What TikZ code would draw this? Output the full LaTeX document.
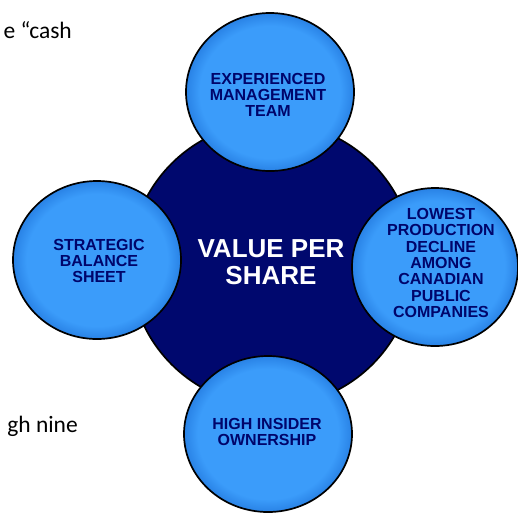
\documentclass[tikz,border=0pt]{standalone}
\usepackage{fontspec}
\setmainfont{Liberation Sans}
\newfontfamily\slidefont{Carlito}

\newlength{\du}
\setlength{\du}{1\unitlength}

\definecolor{bubbleblue}{rgb}{0.230000, 0.610000, 0.980000}
\definecolor{bubbleedge}{rgb}{0.160000, 0.510000, 0.900000}
\definecolor{hubnavy}{rgb}{0.000000, 0.030000, 0.430000}
\definecolor{inknavy}{rgb}{0.000000, 0.020000, 0.420000}

\pgfdeclareradialshading{bubbleglow}{\pgfpoint{0bp}{0bp}}{color(0bp)=(bubbleblue); color(21bp)=(bubbleblue); color(25bp)=(bubbleedge); color(50bp)=(bubbleedge)}

\tikzset{
  bubble/.style={shade, shading=bubbleglow, draw=black, line width=1.7\du},
  hub/.style={fill=hubnavy, draw=black, line width=1.7\du},
  bubbletext/.style={align=center, text=inknavy, inner sep=0pt, font=\bfseries\fontsize{16}{16.3}\selectfont},
  hubtext/.style={align=center, text=white, inner sep=0pt, font=\bfseries\fontsize{26}{27}\selectfont},
  slidetext/.style={inner sep=0pt, font=\slidefont\fontsize{23.5}{28}\selectfont}
}

\begin{document}
\begin{tikzpicture}
\pgftransformxscale{1.000000}
\pgftransformyscale{-1.000000}
\useasboundingbox (0\du,0\du) rectangle (518\du,512\du);
% slide text behind the picture
\node[slidetext, anchor=base east] (cashtext) at (72\du,38\du){e “cash};
\node[slidetext, anchor=base east] (ninetext) at (78\du,432\du){gh nine};
% centre
\path[hub] (272\du,264\du) circle [radius=142\du];
\node[hubtext] (value) at (271\du,262\du){VALUE PER\\SHARE};
% top
\path[bubble] (270\du,92\du) ellipse [x radius=84\du, y radius=79\du];
\node[bubbletext] (team) at (268\du,95\du){EXPERIENCED\\MANAGEMENT\\TEAM};
% left
\path[bubble] (97\du,260\du) ellipse [x radius=84\du, y radius=79\du];
\node[bubbletext] (sheet) at (99\du,261\du){STRATEGIC\\BALANCE\\SHEET};
% right
\path[bubble] (435\du,267\du) ellipse [x radius=83\du, y radius=79\du];
\node[bubbletext] (decline) at (441\du,263\du){LOWEST\\PRODUCTION\\DECLINE\\AMONG\\CANADIAN\\PUBLIC\\COMPANIES};
% bottom
\path[bubble] (268\du,434\du) ellipse [x radius=84\du, y radius=78\du];
\node[bubbletext] (insider) at (267\du,432\du){HIGH INSIDER\\OWNERSHIP};
\end{tikzpicture}
\end{document}
